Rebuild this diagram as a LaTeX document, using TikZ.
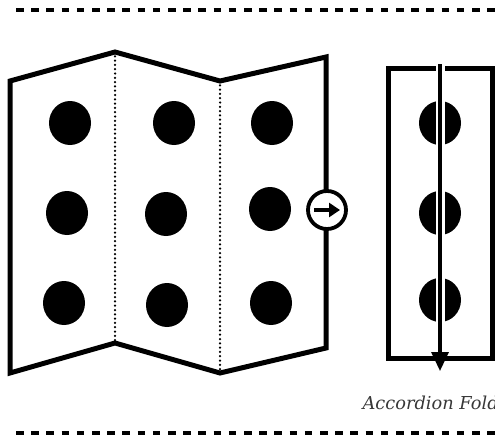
\documentclass[tikz,border=0pt]{standalone}
\usepackage{fontspec}
\setmainfont{DejaVu Serif}
\usetikzlibrary{arrows.meta}
\begin{document}
\begin{tikzpicture}[x=1pt,y=-1pt,
  outline/.style={line width=5pt, line join=miter},
  foldline/.style={line width=2.5pt, line cap=round, dash pattern=on 0pt off 4.3pt},
  sep/.style={line width=3.8pt, dash pattern=on 7.5pt off 7.7pt},
  spot/.style={fill=black, draw=none},
  label/.style={anchor=base west, text=black!78, font=\itshape\fontsize{17.8}{21}\selectfont}]
\useasboundingbox (0,0) rectangle (495,439);
\begin{scope}
\clip (0,0) rectangle (495,439);
% separators
\draw[sep] (16,10) -- (500,10);
\draw[sep] (16,433) -- (500,433);
% zigzag map
\coordinate (tl) at (10,81);
\coordinate (p1) at (115,52);
\coordinate (v1) at (220,81);
\coordinate (tr) at (326,57);
\coordinate (br) at (326,348);
\coordinate (v2) at (220,373);
\coordinate (p2) at (115,343);
\coordinate (bl) at (10,373);
\draw[foldline] (p1) -- (p2);
\draw[foldline] (v1) -- (v2);
\draw[outline] (tl) -- (p1) -- (v1) -- (tr) -- (br) -- (v2) -- (p2) -- (bl) -- cycle;
% dots on map
\fill[spot] (70,123) ellipse [x radius=21pt, y radius=22pt];
\fill[spot] (174,123) ellipse [x radius=21pt, y radius=22pt];
\fill[spot] (272,123) ellipse [x radius=21pt, y radius=22pt];
\fill[spot] (67,213) ellipse [x radius=21pt, y radius=22pt];
\fill[spot] (166,214) ellipse [x radius=21pt, y radius=22pt];
\fill[spot] (270,209) ellipse [x radius=21pt, y radius=22pt];
\fill[spot] (64,303) ellipse [x radius=21pt, y radius=22pt];
\fill[spot] (167,305) ellipse [x radius=21pt, y radius=22pt];
\fill[spot] (271,303) ellipse [x radius=21pt, y radius=22pt];
% flip icon
\node[circle, draw, line width=3.8pt, fill=white, minimum size=38pt, inner sep=0pt] (flip) at (327,210) {};
\draw[line width=3.8pt, -{Triangle[length=11pt,width=14pt]}] ([xshift=-13pt]flip.center) -- ([xshift=13pt]flip.center);
% folded result
\draw[outline] (388,68) rectangle (492,358);
\fill[spot] (440,123) ellipse [x radius=21pt, y radius=22pt];
\fill[spot] (440,213) ellipse [x radius=21pt, y radius=22pt];
\fill[spot] (440,300) ellipse [x radius=21pt, y radius=22pt];
\coordinate (atop) at (440,64);
\coordinate (abot) at (440,371);
\draw[white, line width=9pt] (atop) -- ([yshift=-10pt]abot);
\draw[line width=3.3pt, -{Triangle[length=19pt,width=17pt]}] (atop) -- (abot);
\node[label] (lbl) at (359,409) {Accordion Fold};
\end{scope}
\end{tikzpicture}
\end{document}
